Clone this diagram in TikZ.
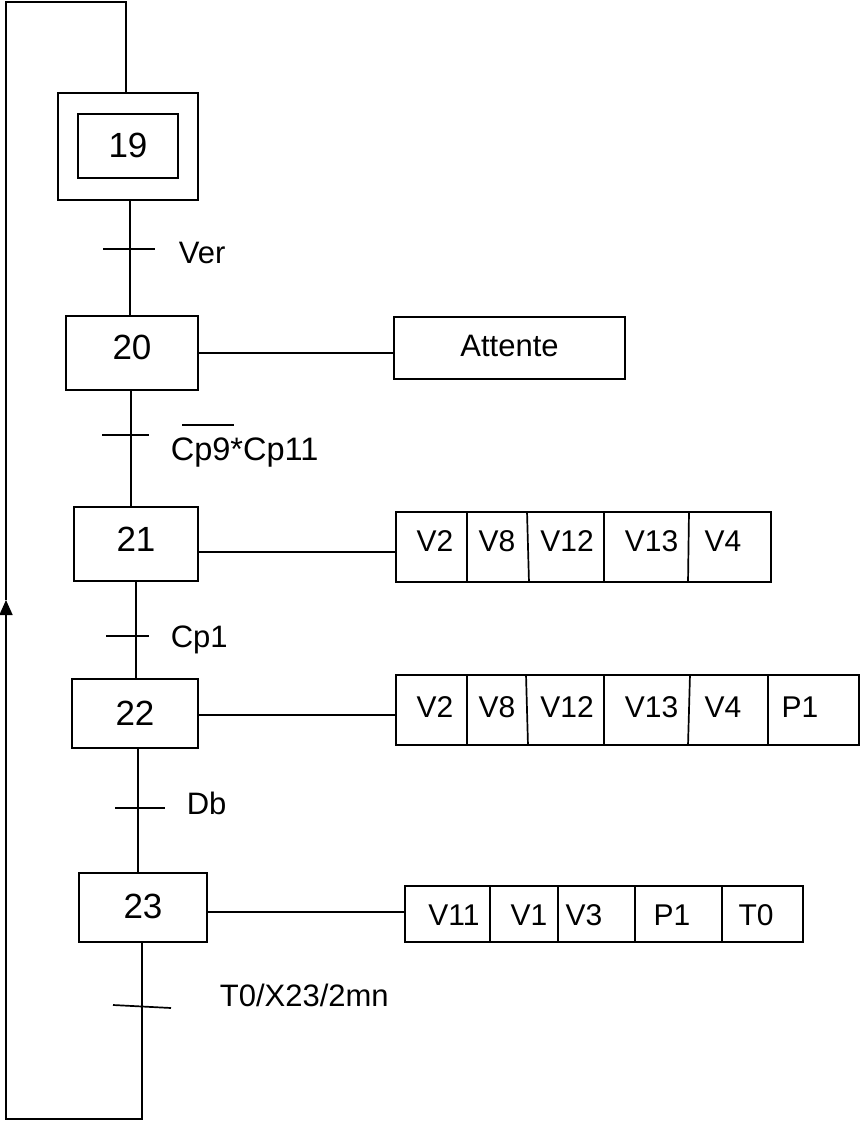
\documentclass[tikz,border=0pt]{standalone}
\usepackage{fontspec}
\setmainfont{Liberation Sans}
\usetikzlibrary{arrows.meta,calc}
\begin{document}
\begin{tikzpicture}[x=1pt,y=-1pt, line width=1.7pt,
  stepbox/.style={draw, rectangle, inner sep=0pt, font=\fontsize{35}{40}\selectfont},
  actbox/.style={draw, rectangle, inner sep=0pt, font=\fontsize{31}{36}\selectfont},
  acttext/.style={anchor=base, inner sep=0pt, font=\fontsize{30}{36}\selectfont},
  cond/.style={anchor=base west, inner sep=0pt, font=\fontsize{31}{36}\selectfont}]
\useasboundingbox (0,0) rectangle (861,1123);

% steps
\node[stepbox, minimum width=140pt, minimum height=107pt] (s19o) at (128,146.5) {};
\node[stepbox, minimum width=100pt, minimum height=64pt, text depth=2pt] (s19) at (128,146) {19};
\node[stepbox, minimum width=132pt, minimum height=74pt, text depth=11pt] (s20) at (132,353) {20};
\node[stepbox, minimum width=124pt, minimum height=74pt, text depth=9pt] (s21) at (136,544) {21};
\node[stepbox, minimum width=126pt, minimum height=69pt, text depth=1pt] (s22) at (135,713.5) {22};
\node[stepbox, minimum width=128pt, minimum height=69pt, text depth=3pt] (s23) at (143,907.5) {23};

% actions
\node[actbox, minimum width=231pt, minimum height=62pt, text depth=5pt] (att) at (509.5,348) {Attente};
\node[actbox, minimum width=375pt, minimum height=70pt] (a21) at (583.5,547) {};
\node[actbox, minimum width=463pt, minimum height=70pt] (a22) at (627.5,710) {};
\node[actbox, minimum width=398pt, minimum height=56pt] (a23) at (604,914) {};

% action cell dividers
\draw (467,0 |- a21.north) -- (467,0 |- a21.south);
\draw (527,0 |- a21.north) -- (529,0 |- a21.south);
\draw (604,0 |- a21.north) -- (604,0 |- a21.south);
\draw (689,0 |- a21.north) -- (688,0 |- a21.south);

\draw (467,0 |- a22.north) -- (467,0 |- a22.south);
\draw (526,0 |- a22.north) -- (528,0 |- a22.south);
\draw (604,0 |- a22.north) -- (604,0 |- a22.south);
\draw (690,0 |- a22.north) -- (688,0 |- a22.south);
\draw (768,0 |- a22.north) -- (768,0 |- a22.south);

\draw (490,0 |- a23.north) -- (490,0 |- a23.south);
\draw (558,0 |- a23.north) -- (558,0 |- a23.south);
\draw (635,0 |- a23.north) -- (635,0 |- a23.south);
\draw (722,0 |- a23.north) -- (722,0 |- a23.south);

% action texts
\node[acttext] (t21a) at (435,551) {V2};
\node[acttext] (t21b) at (497,551) {V8};
\node[acttext] (t21c) at (567,551) {V12};
\node[acttext] (t21d) at (651.5,551) {V13};
\node[acttext] (t21e) at (723,551) {V4};

\node[acttext] (t22a) at (435,717) {V2};
\node[acttext] (t22b) at (497,717) {V8};
\node[acttext] (t22c) at (567,717) {V12};
\node[acttext] (t22d) at (651.5,717) {V13};
\node[acttext] (t22e) at (723,717) {V4};
\node[acttext] (t22f) at (800,717) {P1};

\node[acttext] (t23a) at (454,925) {V11};
\node[acttext] (t23b) at (529,925) {V1};
\node[acttext] (t23c) at (584,925) {V3};
\node[acttext] (t23d) at (672,925) {P1};
\node[acttext] (t23e) at (756,925) {T0};

% step to action links
\draw (s20.east) -- (s20.east -| att.west);
\draw (s21.east |- 0,552) -- (a21.west |- 0,552);
\draw (s22.east |- 0,715) -- (a22.west |- 0,715);
\draw (s23.east |- 0,912) -- (a23.west |- 0,912);

% sequence links
\draw (130,0 |- s19o.south) -- (130,0 |- s20.north);
\draw (131,0 |- s20.south) -- (131,0 |- s21.north);
\draw (136,0 |- s21.south) -- (136,0 |- s22.north);
\draw (138,0 |- s22.south) -- (138,0 |- s23.north);

% transitions
\draw (103,249) -- (155,249);
\draw (102,435) -- (149,435);
\draw (106,636) -- (149,636);
\draw (115,808) -- (165,808);
\draw (113,1005) -- (171,1008);

\node[cond] (c1) at (178,263) {Ver};
\node[cond, font=\fontsize{32.5}{36}\selectfont] (c2) at (170,460) {Cp9*Cp11};
\draw[line width=1.3pt] ($(c2.base west)+(12,-35)$) -- ($(c2.base west)+(64,-35)$);
\node[cond] (c3) at (170,647) {Cp1};
\node[cond] (c4) at (186,814) {Db};
\node[cond] (c5) at (219,1006) {T0/X23/2mn};

% loop back
\coordinate (lbr) at (142,1119);
\coordinate (lbl) at (6,1119);
\coordinate (ltip) at (6,600);
\coordinate (ltl) at (6,2);
\coordinate (ltr) at (126,2);
\draw[-{Triangle[length=15pt,width=13pt]}] (142,0 |- s23.south) -- (lbr) -- (lbl) -- (ltip);
\draw (ltip) -- (ltl) -- (ltr) -- (ltr |- s19o.north);
\end{tikzpicture}
\end{document}
